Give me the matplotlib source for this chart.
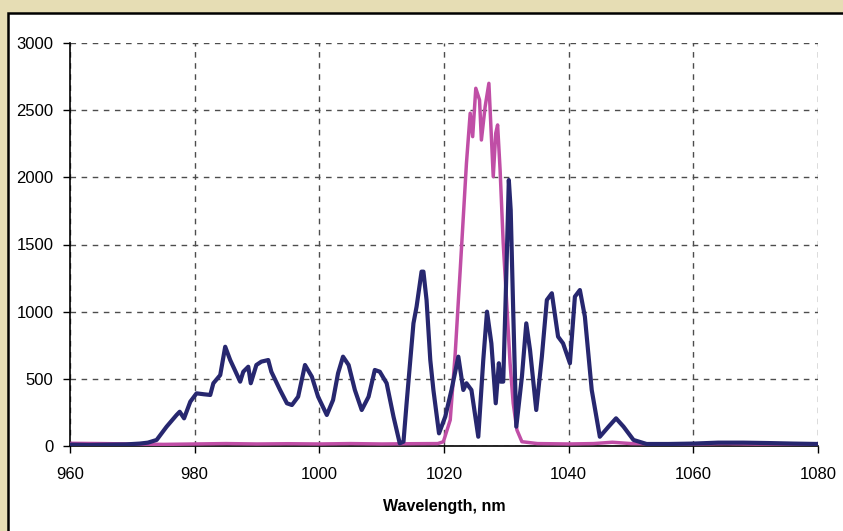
"""Spectrum comparison: broadband (navy) vs narrowband (magenta) output."""

import matplotlib

matplotlib.use("Agg")
import matplotlib.pyplot as plt  # noqa: E402
from matplotlib.patches import Rectangle  # noqa: E402

# navy trace
broad_nm = [
    960.0, 963.0, 966.0, 969.0, 971.2, 972.5, 973.9, 975.5, 977.1, 977.6, 978.3,
    979.3, 980.3, 981.5, 982.5, 983.0, 984.1, 984.9, 985.7, 986.5, 987.3, 987.8,
    988.6, 989.0, 989.9, 990.7, 991.8, 992.3, 993.7, 994.8, 995.6, 996.6, 997.7,
    998.8, 999.8, 1001.2, 1002.2, 1003.0, 1003.8, 1004.7, 1005.7, 1006.8, 1007.9,
    1008.9, 1009.7, 1010.8, 1011.9, 1012.9, 1013.5, 1014.0, 1015.1, 1015.6, 1016.4,
    1016.7, 1017.2, 1017.8, 1018.3, 1019.2, 1020.2, 1021.2, 1022.3, 1023.1, 1023.6,
    1024.4, 1025.5, 1026.3, 1026.9, 1027.6, 1028.3, 1028.8, 1029.1, 1029.5, 1029.9,
    1030.4, 1030.7, 1031.1, 1031.6, 1032.5, 1033.2, 1033.8, 1034.8, 1035.7, 1036.5,
    1037.3, 1038.3, 1039.1, 1040.2, 1041.0, 1041.8, 1042.6, 1043.7, 1045.0, 1046.4,
    1047.6, 1048.8, 1050.4, 1052.5, 1056.0, 1060.0, 1064.0, 1068.0, 1072.0, 1076.0,
    1080.0,
]
broad_val = [
    10, 8, 10, 12, 18, 25, 45, 144, 231, 255, 206,
    330, 392, 385, 380, 467, 528, 739, 640, 560, 479, 553,
    590, 467, 603, 628, 640, 553, 417, 318, 305, 367, 603,
    516, 367, 231, 342, 541, 665, 603, 417, 268, 367,
    566, 553, 467, 218, 20, 32, 318, 913, 1037, 1298,
    1298, 1087, 640, 417, 94, 218, 417, 665, 417, 467,
    417, 69, 640, 1000, 764, 318, 616, 479, 479, 1112,
    1980, 1757, 1012, 144, 516, 913, 715, 268, 665, 1087,
    1137, 814, 764, 616, 1112, 1161, 963, 417, 69, 144,
    206, 144, 45, 15, 15, 18, 25, 25, 22, 18,
    15,
]

# magenta trace
narrow_nm = [
    960.0, 965.0, 970.0, 975.0, 980.0, 985.0, 990.0, 995.0, 1000.0, 1005.0,
    1010.0, 1015.0, 1019.0, 1019.9, 1021.0, 1021.8, 1022.6, 1023.1, 1023.6,
    1024.2, 1024.6, 1025.1, 1025.7, 1026.0, 1026.6, 1027.2, 1027.5, 1027.9,
    1028.3, 1028.6, 1029.0, 1029.5, 1030.0, 1030.6, 1031.1, 1031.7, 1032.5,
    1035.0, 1040.0, 1044.0, 1047.0, 1050.0, 1055.0, 1060.0, 1065.0, 1070.0,
    1075.0, 1080.0,
]
narrow_val = [
    20, 18, 15, 12, 15, 18, 15, 17, 15, 18,
    15, 17, 18, 32, 194, 690, 1310, 1707, 2104,
    2477, 2303, 2663, 2576, 2278, 2526, 2700, 2402, 2005,
    2328, 2390, 2055, 1509, 1112, 616, 318, 119, 32,
    18, 15, 18, 28, 18, 15, 15, 18, 15,
    15, 15,
]

x_ticks = [960, 980, 1000, 1020, 1040, 1060, 1080]
y_ticks = [0, 500, 1000, 1500, 2000, 2500, 3000]

NAVY = "#27276f"
MAGENTA = "#c04ea6"

plt.rcParams["font.family"] = ["Liberation Sans", "DejaVu Sans"]

fig = plt.figure(figsize=(8.43, 5.31), dpi=100)
fig.patch.set_facecolor("#e6ddb4")
# white chart panel with black frame, kept behind the axes
fig.patches.append(
    Rectangle((8 / 843, -0.05), 1.0, 1 - 13 / 531 + 0.05, transform=fig.transFigure,
              facecolor="white", edgecolor="black", linewidth=1.8, zorder=-1)
)

ax = fig.add_axes([70 / 843, 1 - 446 / 531, 748 / 843, 403 / 531])
ax.set_facecolor("white")
ax.plot(narrow_nm, narrow_val, color=MAGENTA, linewidth=2.5, zorder=3)
ax.plot(broad_nm, broad_val, color=NAVY, linewidth=3.0, zorder=4)

ax.set_xlim(960, 1080)
ax.set_ylim(0, 3000)
ax.set_xticks(x_ticks)
ax.set_yticks(y_ticks)
ax.tick_params(direction="out", length=5, width=1, labelsize=12)
ax.tick_params(axis="x", pad=10)
ax.tick_params(axis="y", pad=7)
ax.grid(True, color="#4d4d4d", linestyle=(0, (4, 4)), linewidth=1)
for side in ("top", "right"):
    ax.spines[side].set_visible(False)
for side in ("left", "bottom"):
    ax.spines[side].set_linewidth(1.2)
ax.set_xlabel("Wavelength, nm", fontsize=11.5, fontweight="bold", labelpad=12)

fig.savefig("out.png", dpi=100, facecolor=fig.get_facecolor())
